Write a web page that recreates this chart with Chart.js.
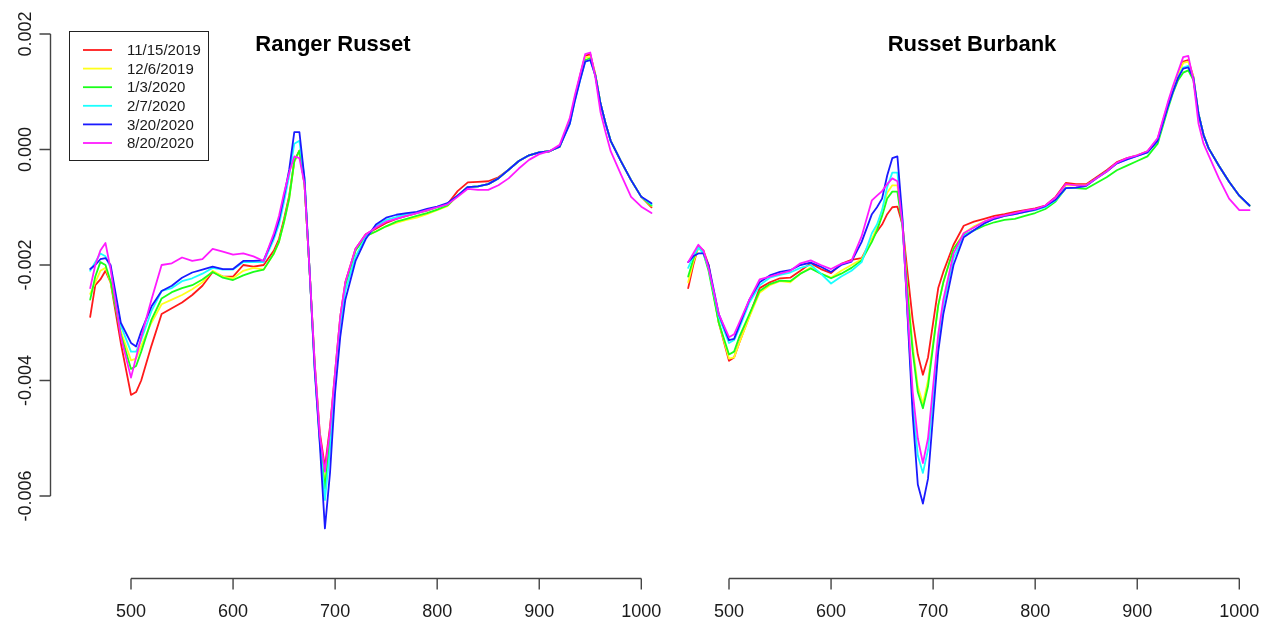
<!DOCTYPE html>
<html><head><meta charset="utf-8">
<script src="https://cdn.jsdelivr.net/npm/chart.js@4.4.1/dist/chart.umd.min.js"></script>
<style>
html,body{margin:0;padding:0;background:#fff;}
#wrap{position:relative;width:1267px;height:622px;overflow:hidden;background:#fff;}
canvas{position:absolute;left:0;top:0;}
</style></head><body>
<div id="wrap"><canvas id="cLeft" width="1267" height="622"></canvas><canvas id="cRight" width="1267" height="622"></canvas></div>
<script>
// ---------- DATA (values in units of 0.001) ----------
const wavelengths = [460,465,470,475,480,490,500,505,510,520,530,540,550,560,570,580,590,600,610,620,630,640,645,650,655,660,665,670,675,680,685,690,695,700,705,710,720,730,740,750,760,770,780,790,800,810,820,830,840,850,860,870,880,890,900,910,920,930,935,940,945,950,955,960,965,970,980,990,1000,1010];

const seriesLabels = ["11/15/2019","12/6/2019","1/3/2020","2/7/2020","3/20/2020","8/20/2020"];
const seriesColors = ["#FF1A1A","#FFFF1A","#1AFF1A","#1AFFFF","#1A1AFF","#FF1AFF"];

const panelTitles = ["Ranger Russet","Russet Burbank"];
const xTicks = [500,600,700,800,900,1000];
const yTicks = [2,0,-2,-4,-6];
const yTickLabels = ["0.002","0.000","-0.002","-0.004","-0.006"];

// Ranger Russet
const rr_1115 = [-2.90,-2.35,-2.25,-2.10,-2.30,-3.35,-4.25,-4.20,-4.00,-3.40,
 -2.85,-2.75,-2.65,-2.52,-2.36,-2.12,-2.20,-2.20,-2.00,-2.03,
 -2.00,-1.75,-1.55,-1.20,-0.80,-0.20,-0.02,-0.60,-2.10,-3.70,
 -4.90,-5.50,-4.80,-3.85,-2.90,-2.30,-1.72,-1.47,-1.37,-1.27,
 -1.20,-1.15,-1.10,-1.06,-1.00,-0.95,-0.72,-0.57,-0.56,-0.55,
 -0.48,-0.35,-0.20,-0.10,-0.05,-0.03,0.05,0.50,0.90,1.28,
 1.62,1.65,1.30,0.80,0.45,0.15,-0.20,-0.53,-0.82,-1.00];
const rr_1206 = [-2.50,-2.30,-2.10,-2.05,-2.30,-3.15,-3.65,-3.62,-3.40,-3.00,
 -2.68,-2.60,-2.52,-2.42,-2.30,-2.10,-2.20,-2.23,-2.10,-2.05,
 -2.08,-1.80,-1.60,-1.25,-0.85,-0.22,-0.02,-0.60,-2.10,-3.75,
 -5.00,-5.80,-4.95,-3.90,-2.95,-2.35,-1.75,-1.50,-1.42,-1.33,
 -1.27,-1.22,-1.18,-1.12,-1.05,-0.98,-0.80,-0.65,-0.64,-0.60,
 -0.50,-0.35,-0.20,-0.10,-0.05,-0.03,0.05,0.50,0.90,1.25,
 1.60,1.60,1.30,0.80,0.45,0.15,-0.20,-0.53,-0.82,-0.98];
const rr_0103 = [-2.60,-2.20,-1.95,-2.00,-2.28,-3.20,-3.80,-3.75,-3.50,-2.95,
 -2.58,-2.47,-2.40,-2.35,-2.25,-2.12,-2.22,-2.26,-2.18,-2.12,
 -2.08,-1.80,-1.60,-1.25,-0.85,-0.20,-0.02,-0.60,-2.10,-3.75,
 -5.00,-5.87,-5.00,-3.90,-2.95,-2.35,-1.75,-1.50,-1.42,-1.33,
 -1.25,-1.20,-1.15,-1.10,-1.04,-0.97,-0.80,-0.65,-0.64,-0.60,
 -0.50,-0.35,-0.20,-0.10,-0.05,-0.03,0.05,0.48,0.88,1.22,
 1.55,1.58,1.28,0.80,0.45,0.15,-0.20,-0.53,-0.82,-0.97];
const rr_0207 = [-2.10,-1.95,-1.80,-1.85,-2.05,-3.05,-3.50,-3.50,-3.30,-2.80,
 -2.45,-2.40,-2.28,-2.23,-2.15,-2.05,-2.08,-2.08,-1.95,-1.95,
 -1.95,-1.55,-1.30,-0.90,-0.45,0.10,0.15,-0.50,-2.10,-3.80,
 -5.05,-6.07,-5.20,-4.00,-3.05,-2.45,-1.85,-1.52,-1.33,-1.22,
 -1.17,-1.12,-1.10,-1.05,-1.00,-0.95,-0.80,-0.65,-0.64,-0.60,
 -0.50,-0.35,-0.20,-0.10,-0.05,-0.03,0.05,0.45,0.85,1.20,
 1.52,1.55,1.28,0.80,0.45,0.15,-0.20,-0.53,-0.82,-0.95];
const rr_0320 = [-2.07,-2.00,-1.90,-1.88,-2.00,-3.00,-3.35,-3.41,-3.15,-2.72,
 -2.45,-2.36,-2.22,-2.13,-2.08,-2.03,-2.07,-2.07,-1.93,-1.93,
 -1.92,-1.50,-1.22,-0.80,-0.35,0.30,0.30,-0.50,-2.10,-3.82,
 -5.10,-6.56,-5.60,-4.20,-3.25,-2.60,-1.93,-1.55,-1.30,-1.18,
 -1.13,-1.10,-1.08,-1.03,-0.99,-0.93,-0.80,-0.65,-0.64,-0.60,
 -0.50,-0.35,-0.20,-0.10,-0.05,-0.03,0.05,0.45,0.85,1.20,
 1.52,1.55,1.28,0.80,0.45,0.15,-0.20,-0.53,-0.82,-0.93];
const rr_0820 = [-2.40,-2.00,-1.75,-1.62,-2.07,-3.24,-3.95,-3.60,-3.25,-2.60,
 -2.00,-1.97,-1.87,-1.93,-1.90,-1.72,-1.77,-1.82,-1.80,-1.85,
 -1.93,-1.45,-1.15,-0.75,-0.40,-0.12,-0.15,-0.60,-2.10,-3.70,
 -4.95,-5.58,-4.85,-3.85,-2.90,-2.30,-1.72,-1.47,-1.35,-1.25,
 -1.20,-1.15,-1.10,-1.05,-1.00,-0.95,-0.82,-0.68,-0.70,-0.70,
 -0.62,-0.50,-0.33,-0.18,-0.08,-0.03,0.08,0.55,0.95,1.30,
 1.65,1.68,1.25,0.65,0.30,-0.03,-0.43,-0.82,-0.99,-1.10];

// Russet Burbank
const rb_1115 = [-2.40,-2.00,-1.68,-1.75,-2.00,-3.00,-3.66,-3.60,-3.35,-2.88,
 -2.40,-2.30,-2.23,-2.22,-2.10,-1.97,-2.07,-2.14,-1.98,-1.91,
 -1.88,-1.55,-1.42,-1.30,-1.12,-1.00,-0.99,-1.30,-2.15,-2.95,
 -3.55,-3.90,-3.60,-3.00,-2.40,-2.12,-1.65,-1.32,-1.25,-1.20,
 -1.15,-1.12,-1.08,-1.05,-1.02,-0.97,-0.82,-0.58,-0.60,-0.60,
 -0.48,-0.36,-0.22,-0.15,-0.10,-0.03,0.18,0.78,1.05,1.30,
 1.52,1.55,1.26,0.62,0.25,0.02,-0.28,-0.56,-0.80,-0.97];
const rb_1206 = [-2.30,-1.95,-1.70,-1.78,-2.05,-3.00,-3.62,-3.60,-3.35,-2.90,
 -2.48,-2.35,-2.28,-2.30,-2.15,-2.04,-2.15,-2.22,-2.10,-2.00,
 -1.90,-1.55,-1.35,-1.05,-0.75,-0.62,-0.62,-1.30,-2.45,-3.40,
 -4.10,-4.40,-4.00,-3.35,-2.70,-2.30,-1.72,-1.45,-1.33,-1.25,
 -1.20,-1.15,-1.12,-1.08,-1.05,-0.98,-0.85,-0.62,-0.62,-0.62,
 -0.50,-0.38,-0.24,-0.16,-0.10,-0.04,0.16,0.76,1.03,1.28,
 1.50,1.52,1.25,0.62,0.25,0.02,-0.28,-0.56,-0.80,-0.97];
const rb_0103 = [-2.20,-1.90,-1.68,-1.80,-2.10,-3.00,-3.55,-3.50,-3.25,-2.85,
 -2.45,-2.33,-2.27,-2.28,-2.15,-2.06,-2.15,-2.23,-2.15,-2.05,
 -1.92,-1.60,-1.40,-1.15,-0.85,-0.73,-0.73,-1.35,-2.50,-3.50,
 -4.20,-4.48,-4.10,-3.40,-2.70,-2.30,-1.72,-1.48,-1.40,-1.32,
 -1.26,-1.22,-1.20,-1.15,-1.10,-1.03,-0.90,-0.67,-0.67,-0.68,
 -0.58,-0.48,-0.36,-0.28,-0.20,-0.12,0.10,0.70,0.98,1.20,
 1.33,1.37,1.20,0.62,0.25,0.02,-0.28,-0.56,-0.80,-0.97];
const rb_0207 = [-2.05,-1.85,-1.70,-1.80,-2.05,-2.90,-3.35,-3.30,-3.10,-2.65,
 -2.35,-2.22,-2.17,-2.13,-2.05,-2.00,-2.15,-2.32,-2.20,-2.10,
 -1.95,-1.45,-1.30,-1.05,-0.65,-0.40,-0.40,-1.25,-2.85,-4.40,
 -5.30,-5.60,-5.20,-4.30,-3.35,-2.70,-1.88,-1.50,-1.40,-1.28,
 -1.20,-1.15,-1.12,-1.08,-1.05,-1.00,-0.88,-0.67,-0.66,-0.63,
 -0.50,-0.38,-0.24,-0.17,-0.11,-0.05,0.15,0.74,1.00,1.25,
 1.42,1.45,1.24,0.62,0.25,0.02,-0.28,-0.56,-0.80,-0.97];
const rb_0320 = [-1.95,-1.85,-1.80,-1.80,-2.00,-2.85,-3.30,-3.28,-3.05,-2.60,
 -2.30,-2.18,-2.12,-2.09,-2.00,-1.96,-2.03,-2.12,-2.00,-1.94,
 -1.60,-1.12,-1.00,-0.85,-0.45,-0.15,-0.12,-1.20,-2.90,-4.60,
 -5.80,-6.13,-5.70,-4.60,-3.50,-2.85,-2.00,-1.52,-1.40,-1.28,
 -1.20,-1.15,-1.12,-1.08,-1.04,-0.98,-0.87,-0.67,-0.66,-0.63,
 -0.50,-0.38,-0.24,-0.17,-0.11,-0.05,0.15,0.74,1.00,1.24,
 1.40,1.42,1.24,0.62,0.25,0.02,-0.28,-0.56,-0.80,-0.97];
const rb_0820 = [-1.95,-1.80,-1.65,-1.75,-2.05,-2.85,-3.25,-3.20,-3.00,-2.60,
 -2.25,-2.20,-2.15,-2.10,-1.97,-1.92,-2.00,-2.07,-1.98,-1.93,
 -1.50,-0.88,-0.80,-0.72,-0.60,-0.50,-0.55,-1.30,-2.80,-4.20,
 -5.00,-5.43,-5.00,-4.10,-3.20,-2.60,-1.80,-1.45,-1.35,-1.25,
 -1.18,-1.14,-1.10,-1.06,-1.03,-0.97,-0.83,-0.60,-0.62,-0.62,
 -0.50,-0.38,-0.23,-0.15,-0.10,-0.03,0.20,0.82,1.10,1.35,
 1.60,1.62,1.20,0.45,0.10,-0.10,-0.50,-0.85,-1.05,-1.05];

const rangerSeries = [rr_1115, rr_1206, rr_0103, rr_0207, rr_0320, rr_0820];
const burbankSeries = [rb_1115, rb_1206, rb_0103, rb_0207, rb_0320, rb_0820];

// ---------- LAYOUT ----------
const W = 1267, H = 622;
const FONT = '"Liberation Sans", Arial, Helvetica, sans-serif';
const PX_PER_NM = 1.0206;
const ZERO_Y = 149.5, PX_PER_UNIT = 57.75;
const Y_MIN = -7.4, Y_MAX = 2.4;
const AXIS_Y = 578.5;

function buildChart(canvasId, title, series, cfg) {
  const areaLeft = cfg.px500 + (cfg.xmin - 500) * PX_PER_NM;
  const areaRight = cfg.px500 + (cfg.xmax - 500) * PX_PER_NM;
  const areaTop = ZERO_Y - Y_MAX * PX_PER_UNIT;
  const areaBottom = ZERO_Y - Y_MIN * PX_PER_UNIT;

  const datasets = series.map((s, i) => ({
    label: seriesLabels[i],
    data: wavelengths.map((w, j) => ({x: w, y: s[j]})),
    borderColor: seriesColors[i],
    backgroundColor: seriesColors[i],
    borderWidth: 1.8,
    pointRadius: 0,
    tension: 0,
    fill: false,
    order: series.length - i
  }));

  const rAxes = {
    id: 'rAxes' + canvasId,
    afterDraw(chart) {
      const ctx = chart.ctx;
      const xs = chart.scales.x, ys = chart.scales.y;
      ctx.save();
      ctx.strokeStyle = '#444';
      ctx.fillStyle = '#1a1a1a';
      ctx.lineWidth = 1.4;
      // x axis
      const xa = xs.getPixelForValue(xTicks[0]);
      const xb = xs.getPixelForValue(xTicks[xTicks.length - 1]);
      ctx.beginPath();
      ctx.moveTo(xa, AXIS_Y); ctx.lineTo(xb, AXIS_Y);
      xTicks.forEach(t => {
        const px = xs.getPixelForValue(t);
        ctx.moveTo(px, AXIS_Y); ctx.lineTo(px, AXIS_Y + 11);
      });
      ctx.stroke();
      ctx.font = '18px ' + FONT;
      ctx.textAlign = 'center';
      ctx.textBaseline = 'middle';
      xTicks.forEach(t => ctx.fillText(String(t), xs.getPixelForValue(t), 612));

      if (cfg.showY) {
        const AX = 50.5;
        const ya = ys.getPixelForValue(yTicks[0]);
        const yb = ys.getPixelForValue(yTicks[yTicks.length - 1]);
        ctx.beginPath();
        ctx.moveTo(AX, ya); ctx.lineTo(AX, yb);
        yTicks.forEach(t => {
          const py = ys.getPixelForValue(t);
          ctx.moveTo(AX, py); ctx.lineTo(AX - 11, py);
        });
        ctx.stroke();
        yTicks.forEach((t, i) => {
          const py = ys.getPixelForValue(t);
          ctx.save();
          ctx.translate(26, py);
          ctx.rotate(-Math.PI / 2);
          ctx.fillText(yTickLabels[i], 0, 0);
          ctx.restore();
        });
      }

      // title
      ctx.font = 'bold 22px ' + FONT;
      ctx.fillStyle = '#000';
      ctx.fillText(title, cfg.titleX, 45);

      // legend
      if (cfg.legend) {
        ctx.strokeStyle = '#222';
        ctx.lineWidth = 1;
        ctx.strokeRect(69.5, 31.5, 139, 129);
        ctx.font = '15px ' + FONT;
        ctx.textAlign = 'left';
        chart.data.datasets.forEach((ds, i) => {
          const ry = 50 + i * 18.6;
          ctx.strokeStyle = ds.borderColor;
          ctx.lineWidth = 1.8;
          ctx.beginPath();
          ctx.moveTo(83, ry); ctx.lineTo(112, ry);
          ctx.stroke();
          ctx.fillStyle = '#1a1a1a';
          ctx.fillText(ds.label, 127, ry + 1);
        });
      }
      ctx.restore();
    }
  };

  return new Chart(document.getElementById(canvasId), {
    type: 'line',
    data: { datasets },
    options: {
      responsive: false,
      animation: false,
      devicePixelRatio: 1,
      layout: { padding: { left: areaLeft, right: W - areaRight, top: areaTop, bottom: H - areaBottom } },
      scales: {
        x: { type: 'linear', min: cfg.xmin, max: cfg.xmax, display: false },
        y: { type: 'linear', min: Y_MIN, max: Y_MAX, display: false }
      },
      plugins: { legend: { display: false }, tooltip: { enabled: false }, title: { display: false } },
      elements: { line: { borderJoinStyle: 'round', borderCapStyle: 'round' } }
    },
    plugins: [rAxes]
  });
}

buildChart('cLeft', panelTitles[0], rangerSeries, { px500: 131, xmin: 420, xmax: 1025, showY: true, legend: true, titleX: 333 });
buildChart('cRight', panelTitles[1], burbankSeries, { px500: 729, xmin: 450, xmax: 1025, showY: false, legend: false, titleX: 972 });
</script>
</body></html>
